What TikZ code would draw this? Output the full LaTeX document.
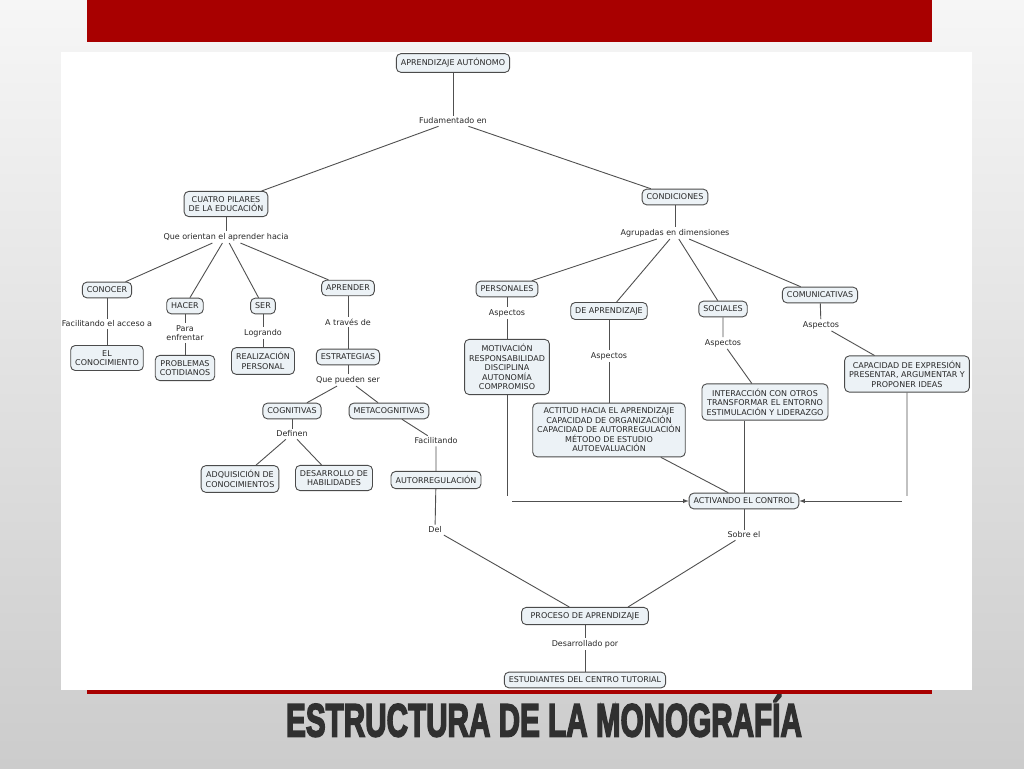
\documentclass[tikz,border=0pt]{standalone}
\usepackage{fontspec}
\usepackage{tikz}
\usetikzlibrary{arrows}
\newfontfamily\cmapfont{DejaVu Sans}
\newfontfamily\titlefont[FakeBold=4]{Liberation Sans Bold}
\definecolor{redbar}{RGB}{168, 0, 0}
\definecolor{bgtop}{RGB}{246, 246, 246}
\definecolor{bgbot}{RGB}{204, 204, 204}
\definecolor{cfill}{RGB}{236, 242, 246}
\definecolor{cborder}{RGB}{75, 75, 75}
\definecolor{ctext}{RGB}{40, 40, 40}
\definecolor{cline}{RGB}{80, 80, 80}
\definecolor{titlegray}{RGB}{48, 48, 48}

\begin{document}
\begin{tikzpicture}[x=1pt, y=-1pt,
    concept/.style={draw=cborder, fill=cfill, rounded corners=4.5pt, line width=0.9pt,
                    inner xsep=4.5pt, inner ysep=4.8pt, align=center, text=ctext,
                    font={\cmapfont\fontsize{8}{9.5}\selectfont}},
    linkword/.style={inner sep=2pt, align=center, text=ctext,
                    font={\cmapfont\fontsize{8}{9.5}\selectfont}},
    junction/.style={inner sep=5pt},
    conn/.style={draw=cline, line width=0.9pt},
    titletext/.style={text=titlegray, xscale=0.638, inner sep=0pt,
                    font={\titlefont\fontsize{46.5}{46.5}\selectfont}}]
    \useasboundingbox (0,0) rectangle (1024,768);
    \shade[top color=bgtop, bottom color=bgbot] (0,0) rectangle (1024,768);
    \fill[redbar] (87,0)   rectangle (932,42);
    \fill[white]  (61,52)  rectangle (972,690);
    \fill[redbar] (87,690) rectangle (932,694);
    \node[titletext] (titulo) at (544,716) {ESTRUCTURA DE LA MONOGRAFÍA};

    \node[concept]  (auto)       at (453, 63) {APRENDIZAJE AUTÓNOMO};
    \node[linkword] (fud)        at (453,121) {Fudamentado en};
    \node[concept]  (pilares)    at (226,204) {CUATRO PILARES\\DE LA EDUCACIÓN};
    \node[concept]  (cond)       at (675,197) {CONDICIONES};
    \node[linkword] (orient)     at (226,237) {Que orientan el aprender hacia};
    \node[linkword] (agrup)      at (675,233) {Agrupadas en dimensiones};

    \node[concept]  (conocer)    at (107,290) {CONOCER};
    \node[concept]  (hacer)      at (185,306) {HACER};
    \node[concept]  (ser)        at (263,306) {SER};
    \node[concept]  (aprender)   at (348,288) {APRENDER};
    \node[linkword] (facacc)     at (107,324) {Facilitando el acceso a};
    \node[linkword] (para)       at (185,333) {Para\\enfrentar};
    \node[linkword] (logrando)   at (263,333) {Logrando};
    \node[linkword] (atraves)    at (348,322) {A través de};
    \node[concept]  (elcon)      at (107,358) {EL\\CONOCIMIENTO};
    \node[concept]  (problemas)  at (185,368) {PROBLEMAS\\COTIDIANOS};
    \node[concept]  (realiz)     at (263,361) {REALIZACIÓN\\PERSONAL};
    \node[concept]  (estrat)     at (348,357) {ESTRATEGIAS};
    \node[linkword] (pueden)     at (348,380) {Que pueden ser};
    \node[concept]  (cognit)     at (292,411) {COGNITIVAS};
    \node[concept]  (metacog)    at (389,411) {METACOGNITIVAS};
    \node[linkword] (definen)    at (292,434) {Definen};
    \node[linkword] (facil)      at (436,441) {Facilitando};
    \node[concept]  (adquis)     at (240,479) {ADQUISICIÓN DE\\CONOCIMIENTOS};
    \node[concept]  (desarr)     at (334,478) {DESARROLLO DE\\HABILIDADES};
    \node[concept]  (autorreg)   at (436,480) {AUTORREGULACIÓN};

    \node[concept]  (personales) at (507,289) {PERSONALES};
    \node[concept]  (deapr)      at (609,311) {DE APRENDIZAJE};
    \node[concept]  (sociales)   at (723,309) {SOCIALES};
    \node[concept]  (comunic)    at (820,295) {COMUNICATIVAS};
    \node[linkword] (asp1)       at (507,313) {Aspectos};
    \node[linkword] (asp2)       at (609,356) {Aspectos};
    \node[linkword] (asp3)       at (723,343) {Aspectos};
    \node[linkword] (asp4)       at (821,325) {Aspectos};
    \node[concept]  (motiv)      at (507,367) {MOTIVACIÓN\\RESPONSABILIDAD\\DISCIPLINA\\AUTONOMÍA\\COMPROMISO};
    \node[concept]  (actitud)    at (609,430) {ACTITUD HACIA EL APRENDIZAJE\\CAPACIDAD DE ORGANIZACIÓN\\CAPACIDAD DE AUTORREGULACIÓN\\MÉTODO DE ESTUDIO\\AUTOEVALUACIÓN};
    \node[concept]  (interac)    at (765,402) {INTERACCIÓN CON OTROS\\TRANSFORMAR EL ENTORNO\\ESTIMULACIÓN Y LIDERAZGO};
    \node[concept]  (capac)      at (907,374) {CAPACIDAD DE EXPRESIÓN\\PRESENTAR, ARGUMENTAR Y\\PROPONER IDEAS};
    \node[junction] (jleft)      at (507,501) {};
    \node[junction] (jright)     at (907,501) {};
    \node[concept]  (activ)      at (744,501) {ACTIVANDO EL CONTROL};

    \node[linkword] (del)        at (435,530) {Del};
    \node[linkword] (sobre)      at (744,535) {Sobre el};
    \node[concept, inner xsep=9pt] (proceso) at (585,616) {PROCESO DE APRENDIZAJE};
    \node[linkword] (desarrpor)  at (585,644) {Desarrollado por};
    \node[concept]  (estud)      at (585,680) {ESTUDIANTES DEL CENTRO TUTORIAL};

    \draw[conn] (auto) -- (fud);
    \draw[conn] (fud) -- (pilares);
    \draw[conn] (fud) -- (cond);
    \draw[conn] (pilares) -- (orient);
    \draw[conn] (cond) -- (agrup);
    \foreach \n in {conocer, hacer, ser, aprender}
        \draw[conn] (orient) -- (\n);
    \foreach \n in {personales, deapr, sociales, comunic}
        \draw[conn] (agrup) -- (\n);
    \draw[conn] (conocer) -- (facacc) -- (elcon);
    \draw[conn] (hacer) -- (para) -- (problemas);
    \draw[conn] (ser) -- (logrando) -- (realiz);
    \draw[conn] (aprender) -- (atraves) -- (estrat) -- (pueden);
    \draw[conn] (pueden) -- (cognit);
    \draw[conn] (pueden) -- (metacog);
    \draw[conn] (cognit) -- (definen);
    \draw[conn] (definen) -- (adquis);
    \draw[conn] (definen) -- (desarr);
    \draw[conn] (metacog) -- (facil) -- (autorreg);
    \draw[conn] (personales) -- (asp1) -- (motiv) -- (jleft);
    \draw[conn] (deapr) -- (asp2) -- (actitud);
    \draw[conn] (sociales) -- (asp3) -- (interac);
    \draw[conn] (comunic) -- (asp4) -- (capac) -- (jright);
    \draw[conn] (actitud) -- (activ);
    \draw[conn] (interac.south -| activ.north) -- (activ.north);
    \draw[conn, -latex] (jleft) -- (activ);
    \draw[conn, -latex] (jright) -- (activ);
    \draw[conn] (autorreg) -- (del) -- (proceso);
    \draw[conn] (activ) -- (sobre);
    \draw[conn] (sobre) -- ([xshift=43pt]proceso.north);
    \draw[conn] (proceso) -- (desarrpor) -- (estud);
\end{tikzpicture}
\end{document}
